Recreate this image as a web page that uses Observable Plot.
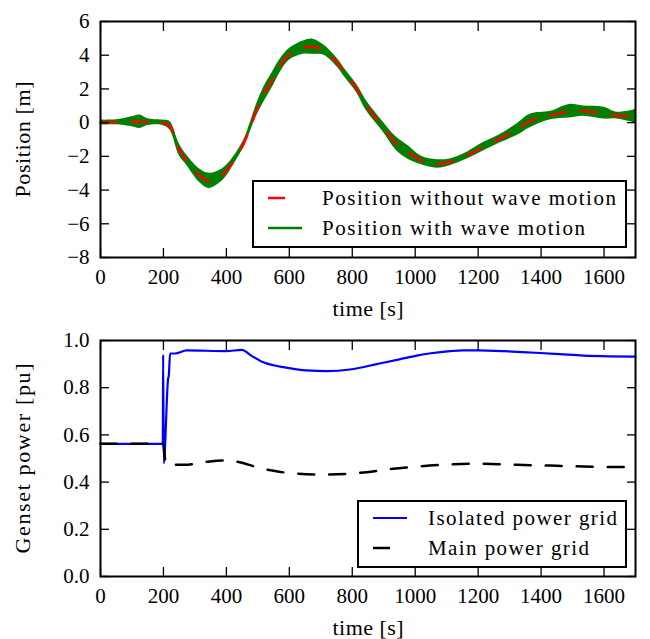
<!DOCTYPE html>
<html><head><meta charset="utf-8">
<script src="https://cdn.jsdelivr.net/npm/d3@7"></script>
<script src="https://cdn.jsdelivr.net/npm/@observablehq/plot@0.6"></script>
<style>body{margin:0;background:#fff} svg{display:block}</style>
</head><body><div id="chart"></div>
<script>
// ---- data ----
const timePos   = [0, 50, 100, 125, 150, 195, 220, 250, 275, 315, 345, 390, 420, 455, 475, 495, 520, 545, 570, 600, 645, 675, 710, 750, 780, 815, 845, 900, 940, 980, 1020, 1070, 1110, 1165, 1215, 1270, 1325, 1365, 1430, 1490, 1535, 1600, 1640, 1700];
const posNoWave = [0, 0.02, 0.05, 0.05, 0.03, 0, -0.17, -1.6, -2.25, -3.15, -3.45, -3.05, -2.35, -1.25, -0.3, 0.7, 1.7, 2.5, 3.35, 4.05, 4.45, 4.5, 4.3, 3.6, 2.85, 2.0, 1.0, -0.3, -1.25, -1.8, -2.25, -2.45, -2.35, -1.95, -1.45, -0.95, -0.4, 0.1, 0.42, 0.68, 0.68, 0.56, 0.42, 0.38];
const waveAmp   = [0.15, 0.15, 0.3, 0.4, 0.2, 0.15, 0.25, 0.35, 0.3, 0.4, 0.45, 0.35, 0.25, 0.2, 0.25, 0.35, 0.45, 0.45, 0.4, 0.35, 0.4, 0.45, 0.3, 0.25, 0.25, 0.25, 0.3, 0.3, 0.4, 0.4, 0.25, 0.25, 0.2, 0.2, 0.25, 0.25, 0.35, 0.4, 0.25, 0.4, 0.3, 0.35, 0.2, 0.4];

const timeIso      = [0, 198, 199, 201, 215, 217, 221, 237, 274, 400, 449, 480, 517, 550, 581, 655, 719, 793, 878, 950, 1005, 1050, 1111, 1150, 1201, 1280, 1340, 1397, 1460, 1534, 1620, 1700];
const isolatedGrid = [0.562, 0.562, 0.94, 0.48, 0.84, 0.85, 0.945, 0.945, 0.958, 0.955, 0.96, 0.935, 0.908, 0.895, 0.887, 0.873, 0.870, 0.877, 0.90, 0.92, 0.936, 0.946, 0.955, 0.958, 0.958, 0.955, 0.951, 0.947, 0.942, 0.936, 0.933, 0.932];

const timeMain = [0, 199, 205, 212, 268, 330, 390, 450, 496, 550, 602, 708, 814, 846, 920, 1005, 1100, 1196, 1323, 1430, 1534, 1700];
const mainGrid = [0.562, 0.562, 0.50, 0.473, 0.473, 0.485, 0.492, 0.482, 0.463, 0.448, 0.438, 0.432, 0.438, 0.442, 0.455, 0.466, 0.474, 0.478, 0.473, 0.47, 0.466, 0.463];

const xTicks     = [0, 200, 400, 600, 800, 1000, 1200, 1400, 1600];
const posTicks   = [-8, -6, -4, -2, 0, 2, 4, 6];
const powerTicks = [0, 0.2, 0.4, 0.6, 0.8, 1.0];

const legendTop    = ["Position without wave motion", "Position with wave motion"];
const legendBottom = ["Isolated power grid", "Main power grid"];

// ---- helpers ----
const FONT = "'Liberation Serif', 'DejaVu Serif', serif";
const minusFmt = d => d < 0 ? "\u2212" + Math.abs(d) : String(d);
const labelWidths = {"time [s]": 71, "Position [m]": 116, "Genset power [pu]": 190};

function axes(yTicks, yFmt, yLabel) {
  return [
    Plot.axisX(xTicks, {anchor: "bottom", tickSize: -9, tickPadding: 21, strokeWidth: 1.3, tickFormat: d => String(d),
      label: "time [s]", labelAnchor: "center", labelArrow: "none", labelOffset: 58}),
    Plot.axisX(xTicks, {anchor: "top", tickSize: -9, strokeWidth: 1.3, tickFormat: () => "", label: null}),
    Plot.axisY(yTicks, {anchor: "left", tickSize: -9, tickPadding: 20, strokeWidth: 1.3, tickFormat: yFmt,
      label: yLabel, labelAnchor: "center", labelArrow: "none", labelOffset: 86}),
    Plot.axisY(yTicks, {anchor: "right", tickSize: -9, strokeWidth: 1.3, tickFormat: () => "", label: null}),
    Plot.frame({strokeWidth: 2})
  ];
}

function fixLabels(svg) {
  d3.select(svg).selectAll('[aria-label$="axis label"] text').each(function() {
    const t = this.textContent.trim();
    const s = d3.select(this).attr("font-size", 22);
    if (labelWidths[t]) s.attr("textLength", labelWidths[t]).attr("lengthAdjust", "spacing");
  });
}

function addLegend(svg, x0, x1, y0, y1, entries) {
  const g = d3.select(svg).append("g");
  g.append("rect").attr("x", x0).attr("y", y0).attr("width", x1 - x0).attr("height", y1 - y0)
    .attr("fill", "white").attr("stroke", "black").attr("stroke-width", 2);
  entries.forEach((e, i) => {
    const yy = y0 + 17 + i * 30;
    g.append("line").attr("x1", x0 + 15).attr("x2", x0 + 49).attr("y1", yy).attr("y2", yy)
      .attr("stroke", e.color).attr("stroke-width", e.width).attr("stroke-dasharray", e.dash || null);
    g.append("text").attr("x", e.tx).attr("y", yy).attr("dy", "0.32em")
      .attr("text-anchor", "start")
      .style("font-family", FONT).attr("font-size", 21)
      .attr("textLength", e.w).attr("lengthAdjust", "spacing")
      .attr("fill", "black").text(e.label);
  });
}

const style = {fontFamily: FONT, fontSize: "21px", color: "black", background: "white", overflow: "visible"};

// ---- top chart ----
const posRows = timePos.map((t, i) => ({t, p: posNoWave[i], a: waveAmp[i]}));
const topChart = Plot.plot({
  width: 650, height: 320,
  marginLeft: 100, marginRight: 15, marginTop: 21, marginBottom: 63,
  style,
  x: {domain: [0, 1700]},
  y: {domain: [-8, 6]},
  marks: [
    Plot.areaY(posRows, {x: "t", y1: d => d.p - d.a, y2: d => d.p + d.a, fill: "#008000", curve: "catmull-rom"}),
    Plot.lineY(posRows, {x: "t", y: "p", stroke: "#008000", strokeWidth: 2, curve: "catmull-rom"}),
    Plot.lineY(posRows, {x: "t", y: "p", stroke: "#ff0000", strokeWidth: 2.5, strokeDasharray: "16,15", curve: "catmull-rom"}),
    ...axes(posTicks, minusFmt, "Position [m]")
  ]
});
fixLabels(topChart);
addLegend(topChart, 253, 626, 181, 247, [
  {label: legendTop[0], color: "#ff0000", width: 2.5, dash: "17,40", tx: 322, w: 294},
  {label: legendTop[1], color: "#008000", width: 2.5, tx: 322, w: 263}
]);

// ---- bottom chart ----
const isoRows = timeIso.map((t, i) => ({t, v: isolatedGrid[i]}));
const mainRows = timeMain.map((t, i) => ({t, v: mainGrid[i]}));
const bottomChart = Plot.plot({
  width: 650, height: 319,
  marginLeft: 100, marginRight: 15, marginTop: 20, marginBottom: 63,
  style,
  x: {domain: [0, 1700]},
  y: {domain: [0, 1]},
  marks: [
    Plot.lineY(isoRows, {x: "t", y: "v", stroke: "#0000ff", strokeWidth: 2.2, curve: "monotone-x"}),
    Plot.lineY(mainRows, {x: "t", y: "v", stroke: "black", strokeWidth: 2.5, strokeDasharray: "16,15", curve: "monotone-x"}),
    ...axes(powerTicks, d => d.toFixed(1), "Genset power [pu]")
  ]
});
fixLabels(bottomChart);
addLegend(bottomChart, 358, 626, 181, 247, [
  {label: legendBottom[0], color: "#0000ff", width: 2.2, tx: 428, w: 189},
  {label: legendBottom[1], color: "black", width: 2.5, dash: "17,40", tx: 428, w: 161}
]);

document.getElementById("chart").append(topChart, bottomChart);
</script>
</body></html>
